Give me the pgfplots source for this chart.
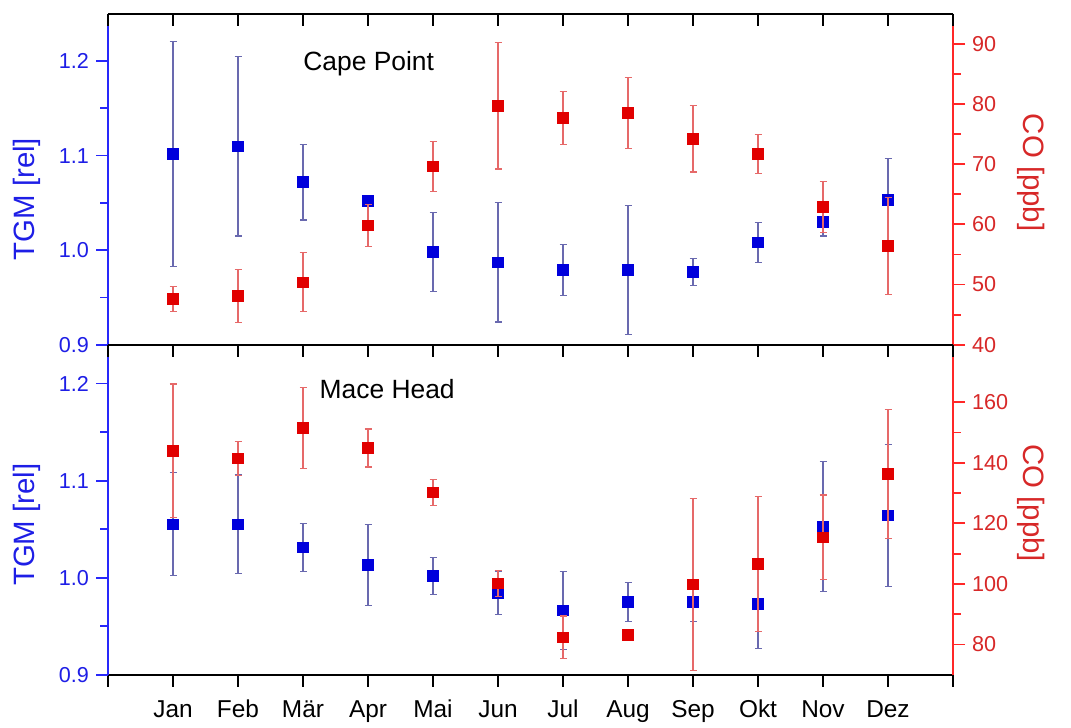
\documentclass[border=0pt]{standalone}
\usepackage{pgfplots}
\pgfplotsset{compat=1.18}
\usepackage{pgfplotstable}
\usepackage{fontspec}
\setmainfont{Liberation Sans}

\definecolor{mblue}{RGB}{0,0,220}
\definecolor{mred}{RGB}{225,0,0}
\definecolor{lblue}{RGB}{40,40,250}
\definecolor{lred}{RGB}{255,40,40}
\definecolor{tblue}{RGB}{30,30,230}
\definecolor{tred}{RGB}{215,40,40}
\definecolor{eblue}{RGB}{105,105,175}
\definecolor{ered}{RGB}{230,105,105}

% month, mean, error
\pgfplotstableread{
x y e
1 1.102 0.119
2 1.110 0.095
3 1.072 0.040
4 1.052 0.004
5 0.998 0.042
6 0.987 0.063
7 0.979 0.027
8 0.979 0.068
9 0.977 0.014
10 1.008 0.021
11 1.030 0.015
12 1.053 0.044
}\tgmcp
\pgfplotstableread{
x y e
1 47.6 2.1
2 48.1 4.4
3 50.4 4.9
4 59.8 3.5
5 69.6 4.2
6 79.7 10.5
7 77.7 4.4
8 78.5 5.9
9 74.2 5.5
10 71.7 3.2
11 62.9 4.2
12 56.4 8.1
}\cocp
\pgfplotstableread{
x y e
1 1.055 0.053
2 1.055 0.051
3 1.031 0.025
4 1.013 0.042
5 1.002 0.019
6 0.984 0.022
7 0.966 0.040
8 0.975 0.020
9 0.975 0.020
10 0.973 0.046
11 1.053 0.067
12 1.064 0.073
}\tgmmh
\pgfplotstableread{
x y e
1 144.0 22.0
2 141.4 5.6
3 151.5 13.3
4 144.9 6.3
5 130.2 4.2
6 100.2 4.3
7 82.4 7.0
8 83.2 1.0
9 99.8 28.4
10 106.6 22.3
11 115.4 14.0
12 136.3 21.3
}\comh

\pgfplotsset{
  panel/.style={
    width=422.5pt, scale only axis,
    xmin=0, xmax=13, xtick={0,...,13},
    /pgf/number format/assume math mode=true,
    tick label style={font=\fontsize{10.8}{12}\selectfont},
    major tick length=6pt, minor tick length=3.8pt,
    axis line style={-, line width=0.9pt},
    every tick/.style={line width=0.9pt, black},
    x axis line style={black},
  },
  leftax/.style={panel,
    axis y line*=left, axis x line*=bottom, tick align=outside,
    y axis line style={lblue}, y tick style={lblue}, yticklabel style={tblue},
    yticklabel style={/pgf/number format/.cd, fixed, fixed zerofill, precision=1},
    minor y tick num=1,
    every axis y label/.style={at={(axis description cs:0,#1)}, xshift=-40.75pt,
      rotate=90, anchor=center, tblue, font=\fontsize{14.7}{17}\selectfont},
  },
  rightax/.style={panel,
    axis y line*=right, axis x line=none, tick align=outside,
    y axis line style={lred}, y tick style={lred}, yticklabel style={tred},
    minor y tick num=1,
    every axis y label/.style={at={(axis description cs:1,#1)}, xshift=39pt,
      rotate=-90, anchor=center, tred, font=\fontsize{14.7}{17}\selectfont},
  },
  topticks/.style={panel, axis x line*=top, hide y axis, tick align=inside,
    xticklabels={}, ymin=0, ymax=1},
  bluedata/.style={only marks, mark=square*, mark size=2.6pt, mblue,
    error bars/.cd, y dir=both, y explicit,
    error bar style={line width=0.6pt, eblue},
    error mark options={rotate=90, mark size=1.75pt, eblue, line width=0.6pt}},
  reddata/.style={only marks, mark=square*, mark size=2.6pt, mred,
    error bars/.cd, y dir=both, y explicit,
    error bar style={line width=0.6pt, ered},
    error mark options={rotate=90, mark size=1.75pt, ered, line width=0.6pt}},
}

\begin{document}
\begin{tikzpicture}
% Cape Point
\begin{axis}[leftax=0.44, at={(0,0)}, anchor=south west, height=165.5pt,
  xticklabels={}, ymin=0.9, ymax=1.25, ytick={0.9,1.0,1.1,1.2},
  ylabel={TGM [rel]}]
  \addplot[bluedata] table[x=x, y=y, y error=e] {\tgmcp};
  \node[anchor=base west, inner sep=0pt, font=\fontsize{13.2}{15}\selectfont]
    at (axis cs:3,1.19) {Cape Point};
\end{axis}
\begin{axis}[rightax=0.52, at={(0,0)}, anchor=south west, height=165.5pt,
  ymin=40, ymax=95, ytick={40,50,...,90}, ylabel={CO [ppb]}]
  \addplot[reddata] table[x=x, y=y, y error=e] {\cocp};
\end{axis}
\begin{axis}[topticks, at={(0,0)}, anchor=south west, height=165.5pt]
\end{axis}

% Mace Head
\begin{axis}[leftax=0.455, at={(0,0)}, anchor=north west, height=165pt,
  ymin=0.9, ymax=1.24, ytick={0.9,1.0,1.1,1.2},
  xticklabels={,Jan,Feb,Mär,Apr,Mai,Jun,Jul,Aug,Sep,Okt,Nov,Dez,},
  xticklabel style={font=\fontsize{12.2}{14}\selectfont, anchor=north,
    inner sep=0pt, text height=8.8pt, text depth=0pt, yshift=-6.5pt},
  ylabel={TGM [rel]}]
  \addplot[bluedata] table[x=x, y=y, y error=e] {\tgmmh};
  \node[anchor=base west, inner sep=0pt, font=\fontsize{13.2}{15}\selectfont]
    at (axis cs:3.25,1.185) {Mace Head};
\end{axis}
\begin{axis}[rightax=0.52, at={(0,0)}, anchor=north west, height=165pt,
  ymin=70, ymax=179, ytick={80,100,...,160}, ylabel={CO [ppb]}]
  \addplot[reddata] table[x=x, y=y, y error=e] {\comh};
\end{axis}
\begin{axis}[topticks, at={(0,0)}, anchor=north west, height=165pt]
\end{axis}

\path (-54pt,-191.5pt) rectangle (481.5pt,169pt);
\end{tikzpicture}
\end{document}
